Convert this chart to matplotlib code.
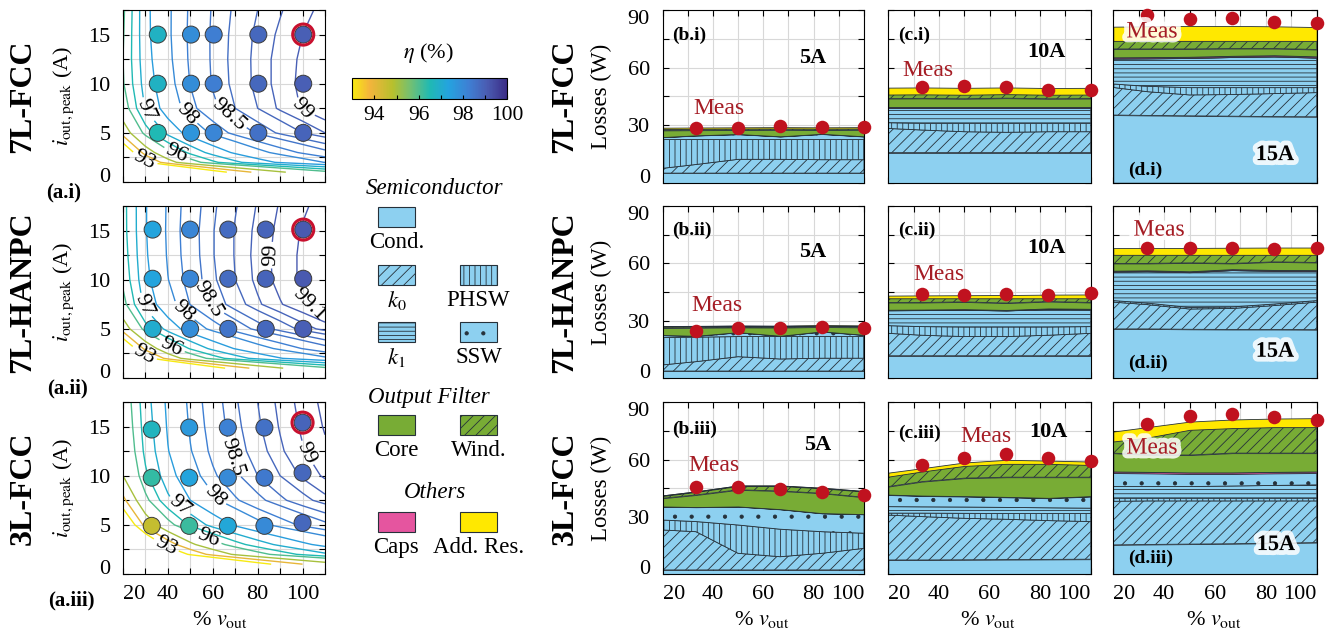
import numpy as np
import matplotlib
matplotlib.use('Agg')
import matplotlib.pyplot as plt
import matplotlib.patheffects as pe
from matplotlib.colors import LinearSegmentedColormap, Normalize
from matplotlib.patches import Rectangle

plt.rcParams['font.family'] = ['Liberation Serif', 'DejaVu Serif']
plt.rcParams['mathtext.fontset'] = 'stix'
plt.rcParams['hatch.linewidth'] = 0.6
plt.rcParams['axes.linewidth'] = 0.8

# ---------------- (a) efficiency maps: eta (%) on i_grid (rows) x v_grid (cols)
v_grid = [20, 30, 40, 50, 60, 70, 80, 90, 100, 110]
i_grid = [1, 2, 3, 5, 7.5, 10, 12.5, 15, 17.5]

eta_7l_fcc = [
    [77.00, 84.65, 88.48, 90.78, 92.31, 93.41, 94.23, 94.87, 95.38, 95.80],
    [89.21, 92.79, 94.59, 95.66, 96.38, 96.89, 97.27, 97.57, 97.81, 98.01],
    [91.69, 94.44, 95.82, 96.64, 97.19, 97.58, 97.88, 98.11, 98.29, 98.44],
    [94.40, 96.23, 97.15, 97.70, 98.07, 98.33, 98.53, 98.68, 98.80, 98.90],
    [95.65, 97.05, 97.75, 98.17, 98.45, 98.65, 98.80, 98.92, 99.01, 99.09],
    [95.95, 97.23, 97.88, 98.26, 98.52, 98.70, 98.84, 98.94, 99.03, 99.10],
    [96.00, 97.32, 97.93, 98.29, 98.53, 98.71, 98.84, 98.94, 99.02, 99.09],
    [95.95, 97.37, 97.95, 98.30, 98.53, 98.70, 98.83, 98.92, 99.00, 99.06],
    [95.90, 97.38, 97.95, 98.29, 98.52, 98.68, 98.80, 98.89, 98.97, 99.03],
]
eta_7l_hanpc = [
    [77.24, 84.82, 88.61, 90.89, 92.40, 93.49, 94.30, 94.93, 95.44, 95.85],
    [88.72, 92.47, 94.35, 95.47, 96.22, 96.76, 97.16, 97.47, 97.72, 97.93],
    [91.46, 94.29, 95.71, 96.56, 97.13, 97.53, 97.84, 98.07, 98.26, 98.42],
    [94.44, 96.27, 97.19, 97.74, 98.10, 98.36, 98.56, 98.71, 98.84, 98.94],
    [95.80, 97.17, 97.85, 98.26, 98.54, 98.73, 98.88, 98.99, 99.08, 99.16],
    [96.12, 97.37, 97.99, 98.37, 98.62, 98.80, 98.93, 99.04, 99.12, 99.19],
    [96.24, 97.44, 98.04, 98.40, 98.64, 98.81, 98.94, 99.04, 99.12, 99.18],
    [96.31, 97.47, 98.06, 98.41, 98.64, 98.81, 98.93, 99.03, 99.11, 99.17],
    [96.32, 97.47, 98.05, 98.39, 98.62, 98.79, 98.91, 99.01, 99.08, 99.15],
]
eta_3l_fcc = [
    [70.00, 80.00, 85.00, 88.00, 90.00, 91.43, 92.50, 93.33, 94.00, 94.55],
    [83.00, 88.67, 91.50, 93.20, 94.33, 95.14, 95.75, 96.22, 96.60, 96.91],
    [87.00, 91.33, 93.50, 94.80, 95.67, 96.29, 96.75, 97.11, 97.40, 97.64],
    [91.50, 94.33, 95.75, 96.60, 97.17, 97.57, 97.88, 98.11, 98.30, 98.45],
    [93.75, 95.83, 96.88, 97.50, 97.92, 98.21, 98.44, 98.61, 98.75, 98.86],
    [95.00, 96.40, 97.30, 97.84, 98.20, 98.46, 98.65, 98.80, 98.92, 99.02],
    [95.30, 96.63, 97.48, 97.98, 98.32, 98.56, 98.74, 98.88, 98.99, 99.08],
    [95.45, 96.73, 97.55, 98.04, 98.37, 98.60, 98.78, 98.91, 99.02, 99.11],
    [95.55, 96.80, 97.60, 98.08, 98.40, 98.63, 98.80, 98.93, 99.04, 99.13],
]
levels = [93, 94, 95, 96, 96.5, 97, 97.5, 98, 98.25, 98.5, 98.65, 98.8, 98.9, 99, 99.1]

# measured operating points (v %, i A, eta %)
v_pts_7l_fcc = [35.5, 50.3, 60.4, 80.3, 100.3]
i_pts_7l_fcc = [[5, 5, 5, 5, 5], [10, 10, 10, 10, 10], [15, 15, 15, 15, 15]]
eta_pts_7l_fcc = [[96.5, 97.7, 98.1, 98.6, 98.9], [96.8, 97.9, 98.3, 98.8, 99.0], [96.8, 97.9, 98.3, 98.8, 99.0]]

v_pts_7l_hanpc = [33.2, 49.9, 66.9, 83.6, 100.3]
i_pts_7l_hanpc = [[5, 5, 5, 5, 5], [10.1, 10.1, 10.1, 10.1, 10.1], [15.1, 15.1, 15.1, 15.1, 15.1]]
eta_pts_7l_hanpc = [[97.0, 97.9, 98.5, 98.8, 99.0], [97.3, 98.1, 98.7, 98.9, 99.1], [97.3, 98.1, 98.7, 98.9, 99.1]]

v_pts_3l_fcc = [32.8, 49.5, 66.7, 83.0, 100.0]
i_pts_3l_fcc = [[4.9, 4.9, 4.9, 4.9, 5.2], [9.8, 9.8, 9.8, 9.8, 10.3], [14.7, 14.9, 14.9, 14.9, 15.4]]
eta_pts_3l_fcc = [[94.6, 96.2, 97.2, 98.0, 98.8], [96.3, 97.3, 98.0, 98.4, 98.8], [96.7, 97.6, 98.2, 98.6, 98.9]]

# ---------------- (b)-(d) loss breakdown (W) at v_loss, layers bottom -> top:
# Cond., k0, PHSW, k1, SSW, Caps, Core, Wind., Add. Res.
v_loss = [20, 33.3, 50, 66.7, 83.3, 100]
v_meas = [33.3, 50, 66.7, 83.3, 100]

loss_7l_fcc_5a = [
    [5.0, 5.0, 5.0, 5.0, 5.0, 5.0],
    [2.5, 4.5, 7.2, 7.2, 7.0, 7.0],
    [15.0, 13.0, 10.3, 10.3, 10.5, 10.5],
    [0, 0, 0, 0, 0, 0],
    [1.2, 2.1, 2.8, 1.6, 2.9, 1.6],
    [0.1, 0.1, 0.1, 0.1, 0.1, 0.1],
    [3.5, 2.7, 2.1, 3.4, 2.0, 3.4],
    [0.7, 0.7, 0.7, 0.7, 0.7, 0.7],
    [0.7, 0.7, 0.7, 0.7, 0.7, 0.7],
]
meas_7l_fcc_5a = [28.7, 28.7, 29.6, 29.0, 29.2]

loss_7l_fcc_10a = [
    [15.7, 15.7, 15.7, 15.7, 15.7, 15.7],
    [12.6, 11.8, 10.9, 10.6, 10.9, 10.9],
    [3.0, 3.5, 4.4, 4.7, 4.4, 4.4],
    [7.5, 7.8, 7.8, 7.8, 7.8, 7.8],
    [0.3, 0.3, 0.3, 0.3, 0.3, 0.3],
    [0.4, 0.4, 0.4, 0.4, 0.4, 0.4],
    [4.4, 4.5, 4.3, 4.6, 4.3, 4.4],
    [2.1, 2.1, 2.1, 2.1, 2.1, 2.1],
    [3.6, 3.6, 3.6, 3.5, 3.5, 3.5],
]
meas_7l_fcc_10a = [50.1, 50.4, 49.7, 48.3, 48.3]

loss_7l_fcc_15a = [
    [35.3, 35.1, 34.9, 34.7, 34.5, 34.4],
    [14.4, 12.4, 10.9, 11.3, 12.0, 12.6],
    [1.8, 2.8, 3.8, 3.6, 3.1, 2.6],
    [13.0, 14.3, 15.2, 15.7, 16.0, 15.4],
    [0.3, 0.3, 0.3, 0.3, 0.3, 0.3],
    [0.6, 0.6, 0.6, 0.6, 0.6, 0.6],
    [4.4, 4.3, 4.1, 3.8, 3.5, 3.6],
    [4.2, 4.2, 4.2, 4.0, 4.0, 4.5],
    [7.4, 7.6, 7.8, 7.8, 7.6, 7.2],
]
meas_7l_fcc_15a = [87.5, 85.2, 85.7, 83.8, 83.1]

loss_7l_hanpc_5a = [
    [3.8, 3.8, 3.8, 3.8, 3.8, 3.8],
    [3.2, 4.9, 7.5, 6.3, 6.7, 6.7],
    [14.3, 12.8, 10.5, 11.7, 11.3, 11.3],
    [0, 0, 0, 0, 0, 0],
    [1.2, 0.6, 2.2, 0.3, 2.6, 0.8],
    [0.1, 0.1, 0.1, 0.1, 0.1, 0.1],
    [3.7, 4.2, 2.5, 4.3, 2.3, 3.9],
    [0.6, 0.6, 0.6, 0.6, 0.6, 0.6],
    [0.4, 0.4, 0.4, 0.4, 0.4, 0.4],
]
meas_7l_hanpc_5a = [24.9, 26.1, 26.5, 26.7, 26.5]

loss_7l_hanpc_10a = [
    [11.8, 11.8, 11.8, 11.8, 11.8, 11.8],
    [11.7, 10.7, 10.0, 10.0, 10.7, 11.7],
    [4.0, 4.5, 5.0, 5.0, 4.3, 3.5],
    [7.8, 8.4, 8.8, 8.4, 9.2, 8.8],
    [0.2, 0.2, 0.2, 0.2, 0.2, 0.2],
    [0.3, 0.3, 0.3, 0.3, 0.3, 0.3],
    [3.8, 3.7, 3.8, 3.6, 3.6, 3.3],
    [2.2, 2.2, 1.9, 2.5, 1.7, 2.2],
    [1.4, 1.5, 1.6, 1.7, 1.9, 2.0],
]
meas_7l_hanpc_10a = [43.9, 43.6, 43.9, 43.6, 44.4]

loss_7l_hanpc_15a = [
    [25.8, 25.8, 25.6, 25.5, 25.5, 25.4],
    [14.0, 12.7, 10.6, 11.0, 12.5, 14.4],
    [0.8, 0.8, 0.8, 0.8, 0.8, 0.8],
    [14.9, 16.4, 18.2, 19.0, 17.1, 15.2],
    [0.2, 0.2, 0.2, 0.2, 0.2, 0.2],
    [0.5, 0.5, 0.5, 0.5, 0.5, 0.5],
    [3.8, 3.6, 4.4, 3.0, 4.2, 4.0],
    [4.5, 4.5, 4.2, 4.5, 3.7, 4.0],
    [3.5, 3.6, 3.6, 3.7, 3.8, 3.8],
]
meas_7l_hanpc_15a = [68.3, 68.3, 68.3, 67.6, 67.9]

loss_3l_fcc_5a = [
    [2.3, 2.3, 2.3, 2.3, 2.3, 2.3],
    [20.9, 20.0, 8.7, 6.9, 8.7, 11.3],
    [5.2, 5.3, 14.8, 14.4, 11.3, 7.9],
    [0, 0, 0, 0, 0, 0],
    [7.0, 7.5, 9.6, 10.4, 9.6, 9.9],
    [0.1, 0.1, 0.1, 0.1, 0.1, 0.1],
    [4.3, 6.3, 8.7, 9.5, 10.4, 8.8],
    [1.2, 1.6, 2.0, 2.6, 2.6, 3.0],
    [0.3, 0.3, 0.3, 0.3, 0.3, 0.3],
]
meas_3l_fcc_5a = [45.5, 45.5, 44.5, 43.3, 41.5]

loss_3l_fcc_10a = [
    [7.5, 7.5, 7.6, 7.7, 7.8, 7.9],
    [23.5, 22.7, 21.7, 21.1, 20.3, 19.7],
    [1.0, 1.8, 2.6, 3.0, 3.7, 4.2],
    [3.4, 3.3, 3.3, 3.2, 3.0, 2.8],
    [6.1, 5.7, 5.5, 5.3, 5.0, 6.1],
    [0.2, 0.2, 0.2, 0.2, 0.2, 0.2],
    [4.2, 7.3, 9.4, 10.3, 10.8, 9.9],
    [5.2, 5.3, 6.4, 7.0, 7.0, 6.4],
    [2.1, 1.7, 1.8, 2.1, 1.7, 1.8],
]
meas_3l_fcc_10a = [57.2, 61.1, 62.8, 61.1, 59.3]

loss_3l_fcc_15a = [
    [15.4, 15.6, 15.8, 16.0, 16.3, 16.6],
    [22.8, 22.8, 22.6, 22.4, 22.1, 21.8],
    [1.6, 1.4, 1.4, 1.4, 1.4, 1.4],
    [6.1, 6.1, 6.1, 6.4, 6.7, 7.0],
    [7.1, 6.9, 6.6, 6.3, 6.3, 6.2],
    [0.8, 0.8, 0.8, 0.8, 0.8, 0.8],
    [9.6, 8.9, 9.1, 10.1, 9.8, 9.6],
    [6.1, 9.0, 13.2, 13.1, 13.6, 13.6],
    [5.2, 5.5, 4.3, 4.5, 4.5, 4.7],
]
meas_3l_fcc_15a = [78.5, 82.9, 83.8, 82.5, 80.8]

# ---------------- styles
cmap = LinearSegmentedColormap.from_list('parula_r', [
    (0.0, '#f7ea12'), (0.11, '#f4b43c'), (0.26, '#b7c02d'), (0.37, '#76c070'),
    (0.5, '#20b9b3'), (0.62, '#24a3df'), (0.75, '#3e80d4'), (0.87, '#4a5cb2'),
    (1.0, '#3b2c86')])
norm = Normalize(93, 100)

blue = '#8dd0f0'
green = '#78ac35'
pink = '#e5559f'
yellow = '#ffe800'
edge = '#26313a'
red = '#c0121f'
layer_styles = [(blue, None), (blue, '///'), (blue, '|||'), (blue, '----'), (blue, '.'),
                (pink, None), (green, None), (green, '///'), (yellow, None)]

W, H = 1335, 641
fig = plt.figure(figsize=(W / 100, H / 100), dpi=100)


def box(x0, y0, x1, y1):
    return [x0 / W, 1 - y1 / H, (x1 - x0) / W, (y1 - y0) / H]


def ftext(x, y, s, **kw):
    fig.text(x / W, 1 - y / H, s, **kw)


def style(ax):
    ax.grid(True, color='#d8d8d8', linewidth=0.8)
    ax.set_axisbelow(True)
    ax.tick_params(direction='in', length=4, width=0.8, top=True, right=True, labelsize=16)
    ax.tick_params(axis='x', pad=8)
    ax.tick_params(axis='y', pad=9)


def eff_panel(ax, eta, v_pts, i_pts, eta_pts, lab_levels, lab_pos, bottom):
    V, I = np.meshgrid(v_grid, i_grid)
    Z = np.array(eta)
    plain = [lv for lv in levels if lv not in lab_levels]
    ax.contour(V, I, Z, levels=plain, cmap=cmap, norm=norm, linewidths=1.0, zorder=2)
    cs = ax.contour(V, I, Z, levels=lab_levels, cmap=cmap, norm=norm, linewidths=1.0, zorder=2)
    ax.clabel(cs, manual=lab_pos, fmt=lambda x: f'{x:g}',
              fontsize=16, colors='k', inline=True, inline_spacing=3)
    VP = np.broadcast_to(np.array(v_pts), (3, 5))
    ax.scatter(VP.ravel(), np.ravel(i_pts), c=np.ravel(eta_pts), cmap=cmap, norm=norm,
               s=150, edgecolors='#3a3a3a', linewidths=0.7, zorder=4)
    ax.scatter([v_pts[-1]], [i_pts[-1][-1]], s=230, facecolors='none',
               edgecolors='#c8102e', linewidths=2.2, zorder=5)
    ax.set_xlim(20, 110)
    ax.set_ylim(0, 17.5)
    ax.set_xticks(np.arange(20, 111, 10))
    ax.set_xticklabels(['20', '', '40', '', '60', '', '80', '', '100', ''])
    ax.set_yticks(np.arange(0, 17.6, 2.5))
    ax.set_yticklabels(['0', '', '5', '', '10', '', '15', ''])
    style(ax)
    if bottom:
        ax.get_xticklabels()[0].set_ha('left')
    else:
        ax.tick_params(labelbottom=False)
    ax.get_yticklabels()[0].set_va('baseline')


def loss_panel(ax, layers, meas, bottom, left, tag, amp, tag_xy, amp_xy, meas_xy, glow):
    base = np.zeros(len(v_loss))
    for vals, (fc, hatch) in zip(layers, layer_styles):
        vals = np.array(vals, dtype=float)
        top = base + vals
        if vals.max() > 0:
            ax.fill_between(v_loss, base, top, facecolor=fc, edgecolor=edge,
                            hatch=hatch, linewidth=0.6, zorder=2)
        base = top
    ax.scatter(v_meas, meas, s=95, color=red, zorder=6, clip_on=False, linewidths=0)
    ax.set_xlim(20, 100)
    ax.set_ylim(0, 90)
    ax.set_xticks(np.arange(20, 101, 10))
    ax.set_xticklabels(['20', '', '40', '', '60', '', '80', '', '100'])
    ax.set_yticks(np.arange(0, 91, 15))
    ax.set_yticklabels(['0', '', '30', '', '60', '', '90'])
    style(ax)
    if bottom:
        xl = ax.get_xticklabels()
        xl[0].set_ha('left')
        xl[-1].set_ha('right')
    else:
        ax.tick_params(labelbottom=False)
    if left:
        yl = ax.get_yticklabels()
        yl[0].set_va('baseline')
        yl[-1].set_va('top')
    else:
        ax.tick_params(labelleft=False)
    glow_fx = [pe.withStroke(linewidth=7, foreground='white', alpha=0.85)]
    ax.text(*tag_xy, tag, transform=ax.transAxes, fontsize=14, fontweight='bold',
            ha='left', va='center', zorder=7)
    ax.text(*amp_xy, amp, transform=ax.transAxes, fontsize=16, fontweight='bold',
            ha='center', va='center', zorder=7, path_effects=glow_fx if glow else None)
    ax.text(*meas_xy, 'Meas', transform=ax.transAxes, fontsize=17, color='#a51c24',
            ha='center', va='center', zorder=7, path_effects=glow_fx if glow else None)


# ---------------- (a) panels
eff_rows = [
    (eta_7l_fcc, v_pts_7l_fcc, i_pts_7l_fcc, eta_pts_7l_fcc, [93, 96, 97, 98, 98.5, 99],
     [(29, 2.1), (44, 2.9), (28.3, 7), (50, 7.2), (67.7, 7), (100.3, 7.6)]),
    (eta_7l_hanpc, v_pts_7l_hanpc, i_pts_7l_hanpc, eta_pts_7l_hanpc, [93, 96, 97, 98, 98.5, 99, 99.1],
     [(29, 2.3), (41.7, 3.2), (28.3, 7.25), (49, 7.25), (60, 8.1), (85.5, 12.5), (102.6, 7.4)]),
    (eta_3l_fcc, v_pts_3l_fcc, i_pts_3l_fcc, eta_pts_3l_fcc, [93, 96, 97, 98, 98.5, 99],
     [(38, 2.4), (58, 3.6), (45.4, 7), (62.5, 8.2), (74.4, 12.3), (102.6, 12.4)]),
]
row_px = [(10, 182), (206, 378), (402, 574)]
for r, (eta, vp, ip, ep, ll, lp) in enumerate(eff_rows):
    ax = fig.add_axes(box(123, row_px[r][0], 325, row_px[r][1]))
    eff_panel(ax, eta, vp, ip, ep, ll, lp, r == 2)

# ---------------- (b)-(d) panels
loss_sets = [
    [(loss_7l_fcc_5a, meas_7l_fcc_5a), (loss_7l_fcc_10a, meas_7l_fcc_10a), (loss_7l_fcc_15a, meas_7l_fcc_15a)],
    [(loss_7l_hanpc_5a, meas_7l_hanpc_5a), (loss_7l_hanpc_10a, meas_7l_hanpc_10a), (loss_7l_hanpc_15a, meas_7l_hanpc_15a)],
    [(loss_3l_fcc_5a, meas_3l_fcc_5a), (loss_3l_fcc_10a, meas_3l_fcc_10a), (loss_3l_fcc_15a, meas_3l_fcc_15a)],
]
col_px = [(662.5, 864), (888.3, 1090.7), (1113.3, 1316.7)]
lrow_px = [(10.2, 182.7), (206, 378.3), (402.3, 574.3)]
roman = ['i', 'ii', 'iii']
amps = ['5A', '10A', '15A']
tag_pos = [[(0.05, 0.856), (0.048, 0.856), (0.072, 0.074)],
           [(0.05, 0.86), (0.048, 0.86), (0.072, 0.089)],
           [(0.05, 0.84), (0.048, 0.82), (0.072, 0.095)]]
amp_pos = [[(0.744, 0.723), (0.78, 0.76), (0.795, 0.16)],
           [(0.744, 0.735), (0.78, 0.756), (0.795, 0.154)],
           [(0.77, 0.75), (0.79, 0.83), (0.8, 0.17)]]
meas_pos = [[(0.28, 0.433), (0.196, 0.653), (0.19, 0.874)],
            [(0.27, 0.42), (0.25, 0.60), (0.225, 0.86)],
            [(0.256, 0.63), (0.483, 0.80), (0.19, 0.734)]]
for r in range(3):
    for c in range(3):
        ax = fig.add_axes(box(col_px[c][0], lrow_px[r][0], col_px[c][1], lrow_px[r][1]))
        layers, meas = loss_sets[r][c]
        loss_panel(ax, layers, meas, r == 2, c == 0, f'({"bcd"[c]}.{roman[r]})', amps[c],
                   tag_pos[r][c], amp_pos[r][c], meas_pos[r][c], c == 2)

# ---------------- colorbar
cax = fig.add_axes(box(352.3, 78.3, 507.3, 99.3))
sm = matplotlib.cm.ScalarMappable(norm=norm, cmap=cmap)
cb = fig.colorbar(sm, cax=cax, orientation='horizontal')
cb.set_ticks([94, 95, 96, 97, 98, 99, 100])
cb.set_ticklabels(['94', '', '96', '', '98', '', '100'])
cax.tick_params(direction='in', length=3, width=0.8, labelsize=15.5, pad=5)
cb.outline.set_linewidth(0.8)
ftext(428, 53, r'$\eta$ (%)', fontsize=16, ha='center', va='center')

# ---------------- legend (drawn by hand)
lg = fig.add_axes([0, 0, 1, 1])
lg.set_xlim(0, W)
lg.set_ylim(H, 0)
lg.axis('off')
legend_items = [
    ('Cond.', 378, 206.7, blue, None),
    (r'$k_0$', 378, 265, blue, '///'), ('PHSW', 460, 265, blue, '|||'),
    (r'$k_1$', 378, 321.7, blue, '----'), ('SSW', 460, 321.7, blue, '.'),
    ('Core', 378, 415, green, None), ('Wind.', 460, 415, green, '///'),
    ('Caps', 378, 511.7, pink, None), ('Add. Res.', 460, 511.7, yellow, None),
]
for name, x, y, fc, hatch in legend_items:
    lg.add_patch(Rectangle((x, y), 37, 20, facecolor=fc, edgecolor=edge, hatch=hatch, linewidth=0.8))
    lg.text(x + 18.5, y + 36, name, fontsize=16.5, ha='center', va='center')
for name, x, y in [('Semiconductor', 434, 188), ('Output Filter', 429, 397), ('Others', 435, 492)]:
    lg.text(x, y, name, fontsize=16.5, style='italic', ha='center', va='center')

# ---------------- row labels, axis labels
names = ['7L-FCC', '7L-HANPC', '3L-FCC']
row_cy = [96, 292, 488]
for r in range(3):
    ftext(23, row_cy[r], names[r], fontsize=23, fontweight='bold', rotation=90, ha='center', va='center')
    ftext(64, row_cy[r], r'$i_{\rm out,peak}$ (A)', fontsize=16, rotation=90, ha='center', va='center')
    ftext(565, row_cy[r], names[r], fontsize=23, fontweight='bold', rotation=90, ha='center', va='center')
    ftext(601, row_cy[r], 'Losses (W)', fontsize=16.5, rotation=90, ha='center', va='center')
for s, x, y in [('(a.i)', 64, 192), ('(a.ii)', 67, 388), ('(a.iii)', 71, 600)]:
    ftext(x, y, s, fontsize=15, fontweight='bold', ha='center', va='center')
for x in [220, 762, 988, 1214]:
    ftext(x, 620, r'% $v_{\rm out}$', fontsize=16, ha='center', va='center')

fig.savefig('out.png', dpi=100)
